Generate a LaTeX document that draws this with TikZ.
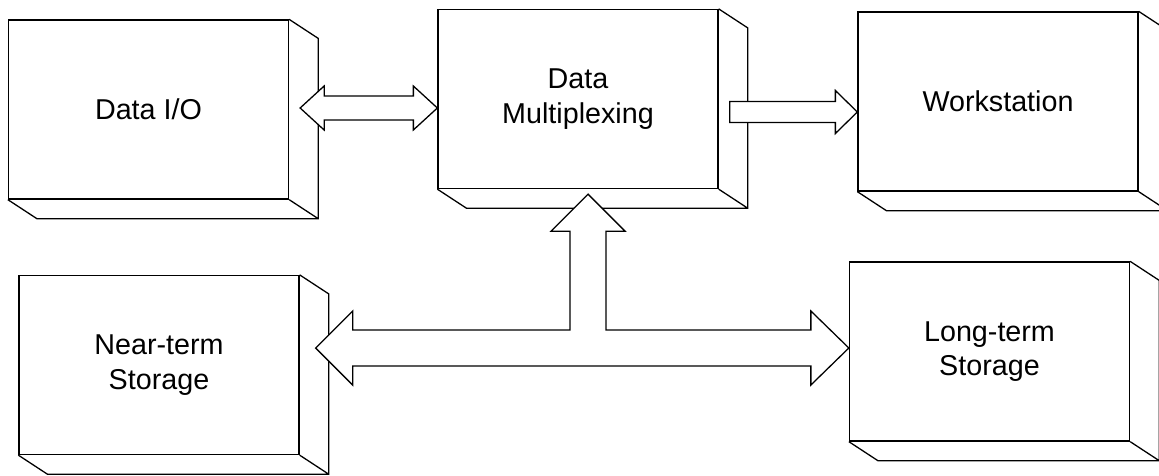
\documentclass[tikz,border=0pt]{standalone}
\usepackage{fontspec}
\setmainfont{Liberation Sans}
\usetikzlibrary{calc}

\begin{document}
\begin{tikzpicture}[
    x=0.03cm, y=-0.03cm,
    box/.style={draw, rectangle, line width=1.1pt, fill=white, minimum width=8.4cm, minimum height=5.37cm, inner sep=0pt, align=center, font=\fontsize{24.5}{29.5}\selectfont},
    face/.style={line width=1.1pt},
    blockarrow/.style={draw, fill=white, line width=1.1pt, line join=miter}
]
    \useasboundingbox[fill=white] (0,0) rectangle (1159,475);

    \node (dataio) [box] at (148.5,109.5) {Data I/O};
    \node (mux)    [box] at (578,99)      {Data\\Multiplexing};
    \node (workst) [box] at (998,101.5)   {Workstation};
    \node (nearst) [box] at (159,365)     {Near-term\\Storage};
    \node (longst) [box] at (989.5,351.5) {Long-term\\Storage};

    % depth of the boxes
    \foreach \n in {dataio,mux,workst,nearst,longst}
        \draw[face] (\n.north east) -- ++(29,19) |- ($(\n.south west)+(29,19)$) -- (\n.south west)
                    (\n.south east) -- ++(29,19);

    \coordinate (io-tip) at ($(dataio.east)+(11,-1.5)$);
    \coordinate (mux-tip) at (mux.west |- io-tip);
    \coordinate (mux-tail) at ($(mux.east)+(11,13)$);
    \coordinate (ws-tip) at (workst.west |- mux-tail);
    \coordinate (up-tip) at ($(mux.south)+(10,5)$);
    \coordinate (near-tip) at ($(nearst.east)+(16,-17)$);
    \coordinate (long-tip) at (longst.west |- near-tip);

    % Data I/O <-> Data Multiplexing
    \draw[blockarrow] (io-tip) -- ++(24,-22) -- ++(0,10) -- ($(mux-tip)+(-24,-12)$) -- ++(0,-10)
        -- (mux-tip) -- ++(-24,22) -- ++(0,-10) -- ($(io-tip)+(24,12)$) -- ++(0,10) -- cycle;

    % Data Multiplexing -> Workstation
    \draw[blockarrow] ($(mux-tail)+(0,-10.5)$) -- ($(ws-tip)+(-22,-10.5)$) -- ++(0,-11) -- (ws-tip)
        -- ++(-22,21.5) -- ++(0,-11) -- ($(mux-tail)+(0,10.5)$) -- cycle;

    % storage bus
    \draw[blockarrow] (up-tip) -- ++(37,37) -- ++(-19,0) |- ($(long-tip)+(-38,-18)$) -- ++(0,-19)
        -- (long-tip) -- ++(-38,37) -- ++(0,-19) -- ($(near-tip)+(37,18)$) -- ++(0,19)
        -- (near-tip) -- ++(37,-37) -- ++(0,19) -| ($(up-tip)+(-18,37)$) -- ++(-19,0) -- cycle;
\end{tikzpicture}
\end{document}
